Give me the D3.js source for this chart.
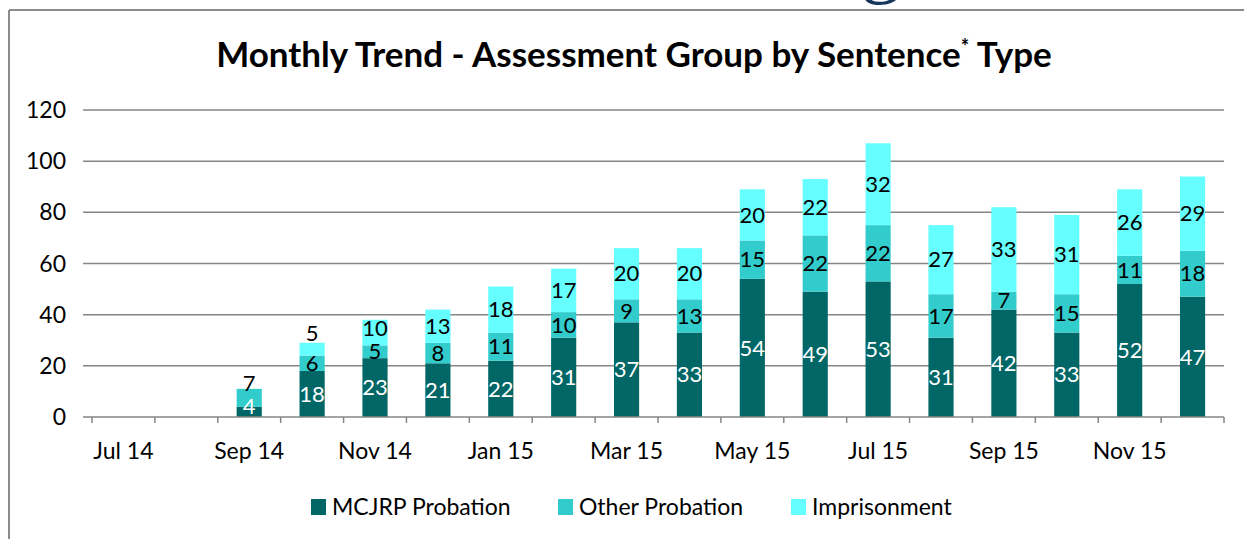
<!DOCTYPE html>
<html><head><meta charset="utf-8">
<script src="https://cdn.jsdelivr.net/npm/d3@7"></script>
<style>
html,body{margin:0;padding:0;background:#fff;}
svg{display:block;font-family:Lato,"Open Sans",sans-serif;}
</style></head>
<body><svg id="chart" width="1244" height="539"></svg>
<script>
const months = ["Jul 14","Aug 14","Sep 14","Oct 14","Nov 14","Dec 14","Jan 15","Feb 15","Mar 15","Apr 15","May 15","Jun 15","Jul 15","Aug 15","Sep 15","Oct 15","Nov 15","Dec 15"];
const mcjrp        = [0,0,4,18,23,21,22,31,37,33,54,49,53,31,42,33,52,47];
const otherProb    = [0,0,7,6,5,8,11,10,9,13,15,22,22,17,7,15,11,18];
const imprisonment = [0,0,0,5,10,13,18,17,20,20,20,22,32,27,33,31,26,29];
const seriesNames  = ["MCJRP Probation","Other Probation","Imprisonment"];
const yTicks = [0,20,40,60,80,100,120];
const colors = ["#006666","#33CCCC","#66FFFF"];
const labelColors = ["#ffffff","#000000","#000000"];

const svg = d3.select("#chart");
const W = 1244, H = 539;

// outer frame
svg.append("line").attr("x1",9).attr("x2",W+2).attr("y1",10).attr("y2",10).attr("stroke","#8c8c8c").attr("stroke-width",2);
svg.append("line").attr("x1",9).attr("x2",9).attr("y1",10).attr("y2",H+2).attr("stroke","#8c8c8c").attr("stroke-width",2);
// logo fragment above frame
svg.append("text").attr("x",881).attr("y",-12).attr("text-anchor","middle")
  .attr("font-family","'Liberation Serif',serif").attr("font-size",80).attr("fill","#17375e").text("g");

// title
const title = svg.append("text").attr("x",634).attr("y",67).attr("text-anchor","middle")
  .attr("font-weight","bold").attr("font-size",35).attr("fill","#000");
title.append("tspan").text("Monthly Trend - Assessment Group by Sentence");
title.append("tspan").attr("dy",-13).attr("font-size",20).text("*");
title.append("tspan").attr("dy",13).text(" Type");

const x = d3.scaleBand().domain(months).range([92,1224]).paddingInner(0.6).paddingOuter(0.3);
const y = d3.scaleLinear().domain([0,120]).range([417,110]);

// gridlines
svg.append("g").selectAll("line").data(yTicks.filter(d=>d>0)).join("line")
  .attr("x1",83).attr("x2",1224).attr("y1",d=>y(d)).attr("y2",d=>y(d))
  .attr("stroke","#868686").attr("stroke-width",1.5);

// y labels
svg.append("g").selectAll("text").data(yTicks).join("text")
  .attr("x",66).attr("y",d=>y(d)).attr("dy","0.35em").attr("text-anchor","end")
  .attr("font-size",23).attr("fill","#000").text(d=>d);

// stacked data
const table = months.map((m,i)=>({month:m, s0:mcjrp[i], s1:otherProb[i], s2:imprisonment[i]}));
const stack = d3.stack().keys(["s0","s1","s2"])(table);

const gBars = svg.append("g");
stack.forEach((layer,k)=>{
  gBars.append("g").selectAll("rect").data(layer).join("rect")
    .attr("x",d=>x(d.data.month)).attr("width",x.bandwidth())
    .attr("y",d=>y(d[1])).attr("height",d=>y(d[0])-y(d[1]))
    .attr("fill",colors[k]);
});

// labels
const gLab = svg.append("g");
months.forEach((m,i)=>{
  let prevY = null;
  let topK = -1;
  stack.forEach((layer,k)=>{ if(layer[i][1]-layer[i][0]>0) topK=k; });
  stack.forEach((layer,k)=>{
    const d = layer[i];
    const v = d[1]-d[0];
    if(v<=0) return;
    const segH = y(d[0])-y(d[1]);
    let cy = (y(d[0])+y(d[1]))/2;
    if(k===topK && segH<16 && prevY!==null) cy = y(d[1]) - 10;
    cy = Math.min(cy, 406);
    if(prevY!==null && prevY-cy<23) cy = prevY-23;
    prevY = cy;
    gLab.append("text").attr("x",x(m)+x.bandwidth()/2).attr("y",cy).attr("dy","0.35em")
      .attr("text-anchor","middle").attr("font-size",22).attr("fill",labelColors[k]).text(v);
  });
});

// x axis base line and ticks at category boundaries
svg.append("line").attr("x1",83).attr("x2",1224).attr("y1",y(0)).attr("y2",y(0)).attr("stroke","#868686").attr("stroke-width",1.5);
const step = x.step();
const edges = d3.range(months.length+1).map(i=>x(months[0]) - step*x.paddingOuter() + i*step);
svg.append("g").selectAll("line").data(edges).join("line")
  .attr("x1",d=>d).attr("x2",d=>d).attr("y1",y(0)).attr("y2",y(0)+6)
  .attr("stroke","#868686").attr("stroke-width",1.5);
svg.append("g").selectAll("text").data(months.filter((m,i)=>i%2===0)).join("text")
  .attr("x",d=>x(d)+x.bandwidth()/2).attr("y",451).attr("dy","0.35em").attr("text-anchor","middle")
  .attr("font-size",23).attr("fill","#000").text(d=>d);

// legend
const legX = [311,558,791];
const lg = svg.append("g");
seriesNames.forEach((n,k)=>{
  lg.append("rect").attr("x",legX[k]).attr("y",499).attr("width",15).attr("height",16).attr("fill",colors[k]);
  lg.append("text").attr("x",legX[k]+21).attr("y",507).attr("dy","0.35em").attr("font-size",23).attr("fill","#000").text(n);
});
</script></body></html>
